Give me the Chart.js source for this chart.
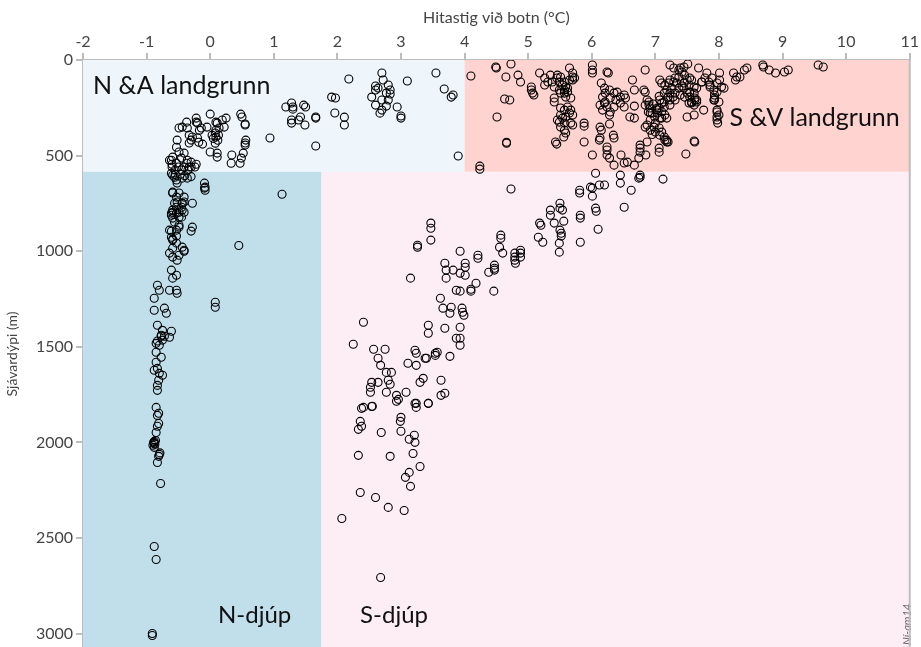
<!DOCTYPE html>
<html>
<head>
<meta charset="utf-8">
<script src="https://cdn.jsdelivr.net/npm/chart.js@4.4.1/dist/chart.umd.min.js"></script>
<style>
  html, body { margin: 0; padding: 0; background: #fff; overflow: hidden; }
  #wrap { width: 921px; height: 647px; overflow: hidden; }
</style>
</head>
<body>
<div id="wrap"><canvas id="chart" width="921" height="653"></canvas></div>
<script>
// [hitastig °C, dýpi m]
const nShelf = [
  [2.18,99],[2.70,68],[2.72,105],[2.6,136],[2.8,131],[2.54,194],[2.7,209],[2.8,209],[2.77,173],
  [2.6,236],[2.7,262],[2.77,241],[2.67,278],[2.94,246],[3.0,293],[3.0,304],[3.1,110],[3.55,68],
  [3.68,152],[3.79,194],[3.82,183],[3.9,502],[1.91,194],[1.97,199],[1.96,277],[2.11,299],[2.11,340],
  [1.66,298],[1.66,304],[1.66,450],[1.19,246],[1.28,225],[1.3,246],[1.28,314],[1.28,330],[1.42,298],
  [1.47,236],[1.5,246],[1.49,340],[0.94,408],[0,283],[0.48,283],[0.5,298],[0.55,335],[0.56,419],
  [0.55,434],[0.55,445],[0.52,487],[0.34,497],[0.33,540],[0.47,540],[0.49,513],[0,481],[0.11,487],
  [0.11,508],[2.6,157],[2.64,147],[2.83,157],[2.83,178],[1.3,257],[1.39,314],
  [-0.22,304],[-0.22,325],[-0.2,330],[-0.37,325],[-0.36,356],[-0.49,356],[-0.44,351],[-0.14,356],
  [-0.17,367],[-0.05,351],[0.09,325],[0.11,330],[0.19,314],[0.25,304],[0.22,351],[0.14,356],[0.09,367],
  [0.08,382],[0.09,403],[0.03,393],[0.13,393],[0.55,340],[-0.3,419],[-0.33,434],[-0.33,393],[-0.28,403],
  [-0.2,408],[-0.52,419],[-0.53,456],[-0.49,481],[-0.41,487],[-0.45,513],[-0.36,524],[-0.3,534],
  [-0.33,560],[-0.41,560],[-0.59,508],[-0.61,524],[-0.53,540],[-0.64,524],[-0.6,545],[-0.5,560],
  [-0.37,540],[-0.3,560],[-0.22,545],[-0.24,560],[-0.6,560],[-0.55,575],[-0.45,575],[-0.35,575],
  [0.05,410],[0.12,420],[0.08,435],[-0.12,440],[-0.18,430]
];

const sShelf = [
  [4.1,84],[4.49,37],[4.5,42],[4.73,21],[4.65,89],[4.84,79],[4.88,115],[4.63,204],[4.71,209],
  [4.51,298],[4.66,430],[4.66,435],[5.05,141],[5.05,157],[5.07,173],[5.09,183],[5.18,68],
  [5.26,94],[5.26,131],[5.31,115],[5.35,79],[5.38,115],[5.41,141],[5.45,94],[5.46,79],[5.49,115],
  [5.51,89],[5.54,131],[5.57,157],[5.62,147],[5.65,105],[5.7,89],[5.7,105],[5.65,42],[5.7,68],
  [5.73,94],[5.57,115],[5.59,141],[5.41,199],[5.41,220],[5.49,157],[5.51,173],[5.57,173],[5.59,194],
  [5.62,168],[5.67,199],[5.51,251],[5.57,262],[5.62,246],[5.67,262],[5.7,288],[5.65,277],[5.59,298],
  [5.54,304],[5.49,325],[5.57,330],[5.51,351],[5.67,330],[5.7,340],[5.57,367],[5.59,382],[5.51,288],
  [5.46,314],[5.88,330],[5.88,346],[5.88,429],[6.01,26],[6.01,52],[6.01,68],[6.24,63],[6.26,68],
  [6.15,120],[6.2,147],[6.21,173],[6.28,157],[6.17,194],[6.21,220],[6.29,199],[6.35,173],[6.4,168],
  [6.45,194],[6.51,183],[6.53,199],[6.38,209],[6.45,225],[6.51,246],[6.35,246],[6.24,246],[6.2,225],
  [6.13,236],[6.17,262],[6.28,288],[6.29,272],[6.13,351],[6.15,367],[6.12,419],[6.13,408],[6.34,393],
  [6.35,408],[6.28,335],[6.64,105],[6.67,157],[6.67,241],[6.67,304],[6.84,52],[6.82,157],[6.84,168],
  [6.87,209],[6.9,220],[6.84,236],[6.92,251],[6.89,272],[6.95,277],[6.99,298],[6.92,314],[6.84,351],
  [6.92,367],[7.0,330],[7.03,277],[7.06,251],[7.07,209],[7.1,225],[7.14,246],[7.15,288],[7.1,304],
  [7.06,356],[7.0,377],[7.07,393],[7.14,403],[7.15,419],[7.18,429],[7.1,377],[7.07,105],[7.1,120],
  [7.15,131],[7.21,120],[7.23,105],[7.26,147],[7.18,157],[7.14,173],[7.29,115],[7.31,94],[7.34,120],
  [7.23,173],[7.28,194],[7.31,173],[7.2,194],[7.23,209],[7.31,209],[7.37,147],[7.42,136],[7.45,120],
  [7.5,105],[7.54,94],[7.61,141],[7.5,173],[7.54,194],[7.53,225],[7.61,236],[7.65,209],[7.23,26],
  [7.29,42],[7.37,52],[7.45,37],[7.51,21],[7.5,298],[7.61,288],[7.76,262],[7.62,209],[7.57,225],
  [7.61,424],[7.48,492],[7.68,42],[7.81,68],[7.78,94],[7.73,115],[7.86,141],[7.92,157],[7.93,183],
  [7.93,209],[7.97,262],[8.0,288],[8.01,105],[8.01,68],[8.08,147],[7.84,115],[7.89,94],[7.97,298],
  [7.97,314],[7.98,330],[8.23,68],[8.28,89],[8.26,105],[8.33,89],[8.4,52],[8.44,42],[8.69,26],
  [8.7,37],[8.79,52],[8.89,68],[9.03,63],[9.09,52],[9.56,26],[9.64,37],
  [6.01,497],[6.24,455],[6.24,471],[6.24,497],[6.28,513],[6.46,497],[6.35,550],[6.51,539],[6.56,534],
  [6.67,550],[6.74,513],[6.76,445],[6.76,461],[6.76,482],[6.87,429],[6.85,497],[7.06,461],[7.06,482],
  [7.18,419],[7.2,429],[5.43,429],[5.45,440],[5.56,403],[6.6,298],[4.24,555],[4.24,571],
  [6.9,236],[6.92,277],[6.87,340],[6.98,351],[7.07,304],[7.18,304],[7.03,251],[7.14,220],[7.23,236],
  [6.95,390],[7.02,260],[7.1,270],[6.97,230],[7.06,190],
  [7.39,42],[7.42,63],[7.37,89],[7.46,79],[7.57,105],[7.53,131],[7.45,147],[7.39,183],[7.46,194],
  [7.54,168],[7.61,173],[7.65,147],[7.73,115],[7.86,131],[7.97,120],[8.04,141],[7.97,168],[7.93,199],
  [7.92,209],[8.0,220],[7.62,199],[7.57,220],[7.65,220],[7.97,272],[7.62,429]
];

const nDeep = [
  [-0.56,613],[-0.53,628],[-0.59,603],[-0.44,618],[-0.36,618],[-0.52,644],[-0.59,691],[-0.49,696],
  [-0.41,717],[-0.44,749],[-0.53,770],[-0.59,796],[-0.61,812],[-0.49,822],[-0.44,785],[-0.28,749],
  [-0.49,874],[-0.61,895],[-0.53,921],[-0.59,937],[-0.41,1000],[-0.09,644],[-0.09,670],[-0.3,895],
  [0.45,970],[1.13,702],[-0.08,665],[-0.08,681],[-0.61,592],[-0.55,598],[-0.47,597],[-0.4,605],[-0.3,610],
  [-0.59,696],[-0.53,717],[-0.56,749],[-0.52,743],[-0.44,749],[-0.41,743],[-0.45,770],[-0.59,785],
  [-0.61,801],[-0.53,801],[-0.49,796],[-0.41,796],[-0.45,822],[-0.59,827],[-0.56,848],[-0.49,864],
  [-0.28,874],[-0.64,890],[-0.53,890],[-0.61,927],[-0.59,942],[-0.53,958],[-0.44,979],[-0.41,995],
  [-0.59,984],[-0.64,1010],[-0.59,1031],[-0.49,1021],[-0.52,1047],[-0.61,1099],[-0.53,1126],[-0.59,1141],
  [-0.64,1204],[-0.53,1204],[-0.52,1220],[-0.83,1178],[-0.8,1204],[-0.88,1246],[-0.88,1309],[-0.72,1298],
  [-0.69,1325],[-0.83,1387],[-0.75,1414],[-0.61,1419],[-0.77,1440],[-0.85,1482],[-0.8,1492],[-0.85,1529],
  [-0.77,1555],[-0.85,1581],[-0.88,1623],[-0.83,1613],[-0.8,1639],[-0.75,1649],[-0.81,1675],[-0.83,1702],
  [-0.83,1728],[-0.85,1817],[0.08,1267],[0.08,1293],[-0.77,1445],[-0.75,1465],[-0.72,1445],[-0.64,1450],
  [-0.83,1470],[-0.81,1848],[-0.83,1859],[-0.81,1901],[-0.83,1916],[-0.85,1948],[-0.89,2000],[-0.88,2005],
  [-0.86,1990],[-0.88,2026],[-0.8,2063],[-0.81,2073],[-0.83,2105],[-0.78,2215],[-0.88,2545],[-0.85,2613],
  [-0.91,3000],[-0.91,3010],[-0.87,2010],[-0.9,2015],[-0.88,1995],[-0.79,2055]
];

const sDeep = [
  [2.38,1822],[2.54,1812],[2.93,1785],[3.24,1796],[3.24,1817],[3.43,1796],[2.36,1890],[2.38,1916],
  [2.33,1932],[2.69,1948],[3.0,1869],[2.99,1890],[3.0,1942],[3.13,1984],[3.21,1963],[3.22,2000],
  [3.19,2058],[2.33,2068],[2.83,2073],[3.13,2157],[3.3,2126],[3.07,2183],[3.15,2230],[2.36,2262],
  [2.6,2288],[2.8,2340],[3.05,2356],[2.07,2398],[2.68,2707],
  [3.47,853],[3.47,880],[3.47,942],[3.26,969],[3.26,979],[3.15,1141],[3.69,1063],[3.71,1099],[3.71,1141],
  [3.82,1099],[3.87,1204],[3.62,1246],[3.66,1298],[3.79,1293],[3.77,1325],[3.43,1387],[3.43,1429],
  [3.69,1403],[3.87,1455],[2.41,1372],[2.25,1487],[2.57,1513],[2.75,1513],[2.64,1560],[2.68,1597],
  [3.11,1586],[3.22,1518],[3.24,1534],[3.4,1560],[3.54,1534],[3.57,1529],[3.24,1597],[3.63,1675],
  [3.69,1743],[3.63,1754],[2.54,1686],[2.52,1712],[2.52,1738],[2.64,1686],[2.77,1634],[2.85,1634],
  [2.8,1675],[2.83,1696],[2.77,1738],[2.93,1754],[2.96,1775],[3.08,1738],[3.22,1796],[3.43,1796],
  [3.3,1686],[3.35,1665],[2.41,1817],[2.55,1811],[3.77,1550],[3.54,1545],[3.38,1560],
  [4.73,675],[6.06,592],[5.98,665],[6.01,670],[6.12,654],[6.2,654],[6.01,712],[5.81,681],[5.81,696],
  [6.45,602],[6.45,644],[6.62,681],[6.76,602],[6.76,613],[7.12,623],[6.74,618],[5.5,749],[5.5,775],
  [5.54,785],[5.35,785],[5.35,812],[5.41,853],[5.56,843],[5.18,853],[5.2,864],[5.82,812],[5.82,827],
  [6.06,775],[6.07,791],[6.1,885],[6.51,770],[5.5,890],[5.52,906],[5.52,921],[5.49,958],[5.49,1005],
  [5.16,927],[5.23,953],[5.82,953],[4.57,916],[4.57,932],[4.55,979],[4.6,1010],[4.21,1021],[4.21,1037],
  [4.01,1063],[4.01,1084],[4.47,1073],[4.47,1089],[4.47,1099],[4.38,1110],[4.79,1010],[4.79,1031],
  [4.79,1047],[4.8,1063],[4.88,995],[4.88,1010],[4.88,1031],[4.01,1126],[4.18,1168],[4.1,1199],
  [4.1,1209],[4.46,1209],[3.93,1000],[3.93,1115],[3.93,1209],[3.96,1298],[3.97,1319],[3.99,1335],
  [3.93,1398],[3.93,1455],[3.93,1492]
];

const depthTicks = [0, 500, 1000, 1500, 2000, 2500, 3000];

// svæðaskipting
const shelfDepth = 585;
const northSouthShelf = 4;
const northSouthDeep = 1.75;

const regionColors = {
  nShelf: "#eef6fc",
  sShelf: "#ffd4d0",
  nDeep: "#c1dfea",
  sDeep: "#fdeef5"
};

const FONT = "Lato, 'Open Sans', 'DejaVu Sans', sans-serif";

const regionPlugin = {
  id: "regions",
  beforeDatasetsDraw(chart) {
    const { ctx, chartArea: a, scales: { x, y } } = chart;
    const px = v => x.getPixelForValue(v);
    const py = v => y.getPixelForValue(v);
    const split = py(shelfDepth);
    ctx.save();
    ctx.fillStyle = regionColors.nShelf;
    ctx.fillRect(a.left, a.top, px(northSouthShelf) - a.left, split - a.top);
    ctx.fillStyle = regionColors.sShelf;
    ctx.fillRect(px(northSouthShelf), a.top, a.right - px(northSouthShelf), split - a.top);
    ctx.fillStyle = regionColors.nDeep;
    ctx.fillRect(a.left, split, px(northSouthDeep) - a.left, a.bottom - split);
    ctx.fillStyle = regionColors.sDeep;
    ctx.fillRect(px(northSouthDeep), split, a.right - px(northSouthDeep), a.bottom - split);
    ctx.restore();
  },
  afterDatasetsDraw(chart) {
    const { ctx, chartArea: a } = chart;
    ctx.save();
    ctx.fillStyle = "#111";
    ctx.textBaseline = "alphabetic";
    ctx.font = "25px " + FONT;
    ctx.textAlign = "left";
    ctx.fillText("N &A landgrunn", a.left + 10, a.top + 34);
    ctx.textAlign = "right";
    ctx.fillText("S &V landgrunn", a.right - 10, a.top + 66);
    ctx.font = "24px " + FONT;
    ctx.textAlign = "left";
    ctx.fillText("N-djúp", 218, 623);
    ctx.fillText("S-djúp", 360, 623);

    ctx.font = "italic 11px " + FONT;
    ctx.fillStyle = "#666";
    ctx.translate(907, 645);
    ctx.rotate(-Math.PI / 2);
    ctx.textAlign = "left";
    ctx.textBaseline = "middle";
    ctx.fillText("Ní-am14", 0, 0);
    ctx.restore();

    // hægri rammi
    ctx.save();
    ctx.strokeStyle = "#bdbdbd";
    ctx.lineWidth = 2;
    ctx.beginPath();
    ctx.moveTo(a.right, a.top);
    ctx.lineTo(a.right, a.bottom);
    ctx.stroke();
    ctx.restore();
  }
};

const toPoints = arr => arr.map(([t, d]) => ({ x: t, y: d }));
const pointStyle = {
  pointRadius: 4,
  pointBorderWidth: 1.1,
  borderColor: "#000",
  backgroundColor: "rgba(0,0,0,0)",
  pointHoverRadius: 4
};

new Chart(document.getElementById("chart"), {
  type: "scatter",
  data: {
    datasets: [
      { label: "N&A landgrunn", data: toPoints(nShelf), ...pointStyle },
      { label: "S&V landgrunn", data: toPoints(sShelf), ...pointStyle },
      { label: "N-djúp", data: toPoints(nDeep), ...pointStyle },
      { label: "S-djúp", data: toPoints(sDeep), ...pointStyle }
    ]
  },
  options: {
    responsive: false,
    animation: false,
    layout: { padding: { left: 0, right: 7, top: 0, bottom: 0 } },
    plugins: { legend: { display: false }, tooltip: { enabled: false } },
    scales: {
      x: {
        type: "linear",
        position: "top",
        min: -2,
        max: 11,
        afterFit: s => { s.height = 60; },
        ticks: { stepSize: 1, color: "#444", font: { family: FONT, size: 16 }, padding: 2 },
        grid: { drawOnChartArea: false, drawTicks: true, tickLength: 7, color: "#bdbdbd", lineWidth: 2 },
        border: { color: "#bdbdbd", width: 2 },
        title: {
          display: true,
          text: "Hitastig við botn (°C)",
          color: "#444",
          font: { family: FONT, size: 16 },
          padding: { top: 8, bottom: 0 }
        }
      },
      y: {
        type: "linear",
        reverse: true,
        min: 0,
        max: 3075,
        afterFit: s => { s.width = 83; s.paddingTop = 0; s.paddingBottom = 0; },
        afterBuildTicks: s => { s.ticks = depthTicks.map(v => ({ value: v })); },
        ticks: {
          color: "#444",
          font: { family: FONT, size: 16 },
          padding: 3,
          callback: v => String(v)
        },
        grid: { drawOnChartArea: false, drawTicks: true, tickLength: 7, color: "#bdbdbd", lineWidth: 2 },
        border: { color: "#bdbdbd", width: 2 },
        title: {
          display: true,
          text: "Sjávardýpi (m)",
          color: "#444",
          font: { family: FONT, size: 14 },
          padding: { top: 4, bottom: 0 }
        }
      }
    }
  },
  plugins: [regionPlugin]
});
</script>
</body>
</html>
